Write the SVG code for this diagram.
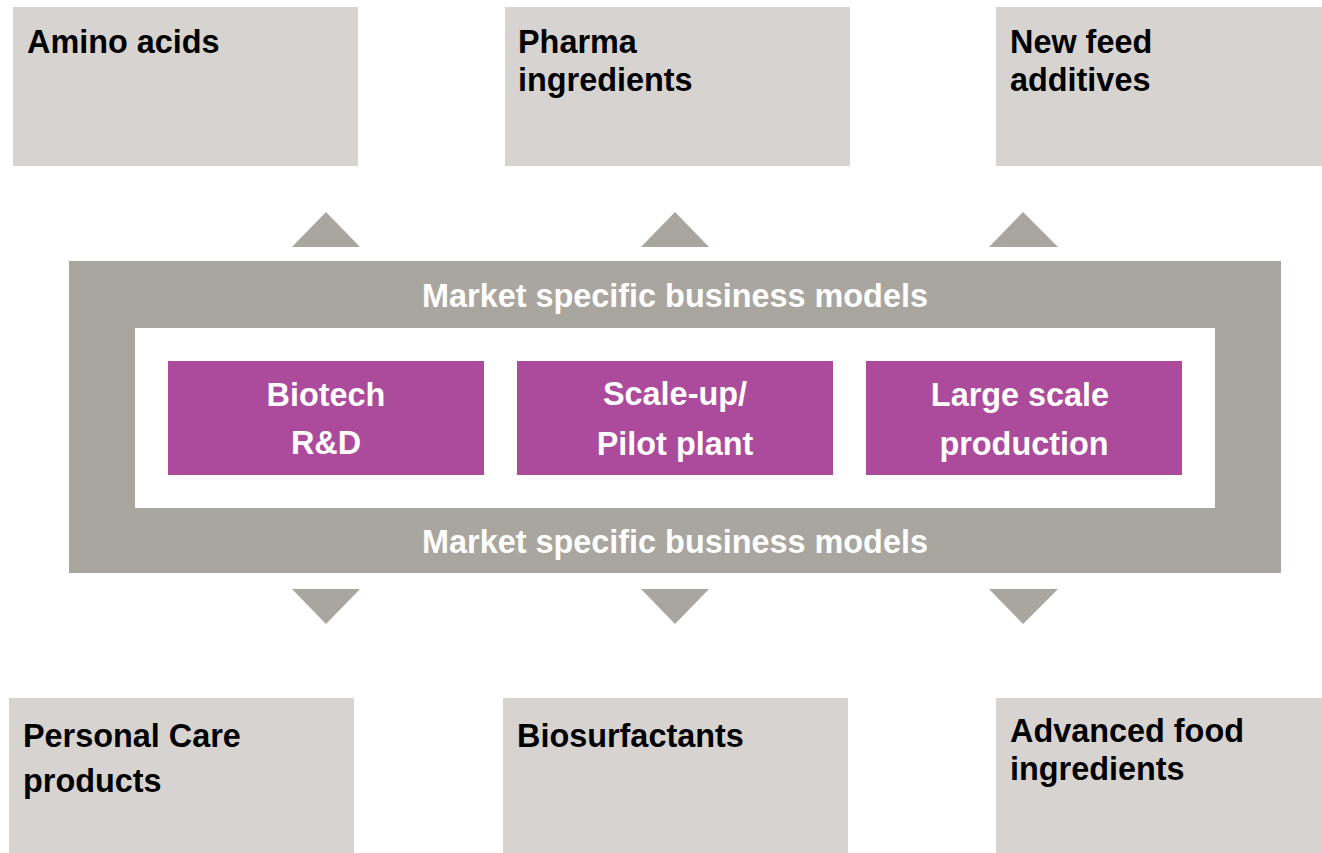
<svg xmlns="http://www.w3.org/2000/svg" width="1322" height="853" viewBox="0 0 1322 853">
<style>
.box{fill:#D7D3D0}
.frame{fill:#A9A59F}
.inner{fill:#FFFFFF}
.step{fill:#AC4B9C}
.tri{fill:#A9A59F}
text{font-family:"Liberation Sans",Arial,sans-serif;font-weight:bold;font-size:32.4px}
.dark{fill:#000000}
.light{fill:#FFFFFF;text-anchor:middle}
</style>
<rect width="1322" height="853" fill="#FFFFFF"/>
<g id="amino-acids"><rect class="box" x="13" y="7" width="345" height="159"/><text class="dark" x="27" y="53">Amino acids</text></g>
<g id="pharma-ingredients"><rect class="box" x="505" y="7" width="345" height="159"/><text class="dark" x="518" y="53">Pharma</text><text class="dark" x="518" y="91">ingredients</text></g>
<g id="new-feed-additives"><rect class="box" x="996" y="7" width="326" height="159"/><text class="dark" x="1010" y="53">New feed</text><text class="dark" x="1010" y="91">additives</text></g>
<g id="business-models"><rect class="frame" x="69" y="261" width="1212" height="312"/><rect class="inner" x="135" y="328" width="1080" height="180"/><text class="light" x="675" y="307">Market specific business models</text><text class="light" x="675" y="553">Market specific business models</text></g>
<g id="biotech-rd"><rect class="step" x="168" y="361" width="316" height="114"/><text class="light" x="326" y="406">Biotech</text><text class="light" x="326" y="454">R&amp;D</text></g>
<g id="scale-up"><rect class="step" x="517" y="361" width="316" height="114"/><text class="light" x="675" y="405">Scale-up/</text><text class="light" x="675" y="455">Pilot plant</text></g>
<g id="large-scale"><rect class="step" x="866" y="361" width="316" height="114"/><text class="light" x="1020" y="406">Large scale</text><text class="light" x="1024" y="455">production</text></g>
<g id="personal-care"><rect class="box" x="9" y="698" width="345" height="155"/><text class="dark" x="23" y="747">Personal Care</text><text class="dark" x="23" y="792">products</text></g>
<g id="biosurfactants"><rect class="box" x="503" y="698" width="345" height="155"/><text class="dark" x="517" y="747">Biosurfactants</text></g>
<g id="advanced-food"><rect class="box" x="996" y="698" width="326" height="155"/><text class="dark" x="1010" y="742">Advanced food</text><text class="dark" x="1010" y="780">ingredients</text></g>
<g id="connectors">
<polygon class="tri" points="292,247 360,247 326,212"/>
<polygon class="tri" points="641,247 709,247 675,212"/>
<polygon class="tri" points="989,247 1058,247 1023,212"/>
<polygon class="tri" points="292,589 360,589 326,624"/>
<polygon class="tri" points="641,589 709,589 675,624"/>
<polygon class="tri" points="989,589 1058,589 1023,624"/>
</g>
</svg>
